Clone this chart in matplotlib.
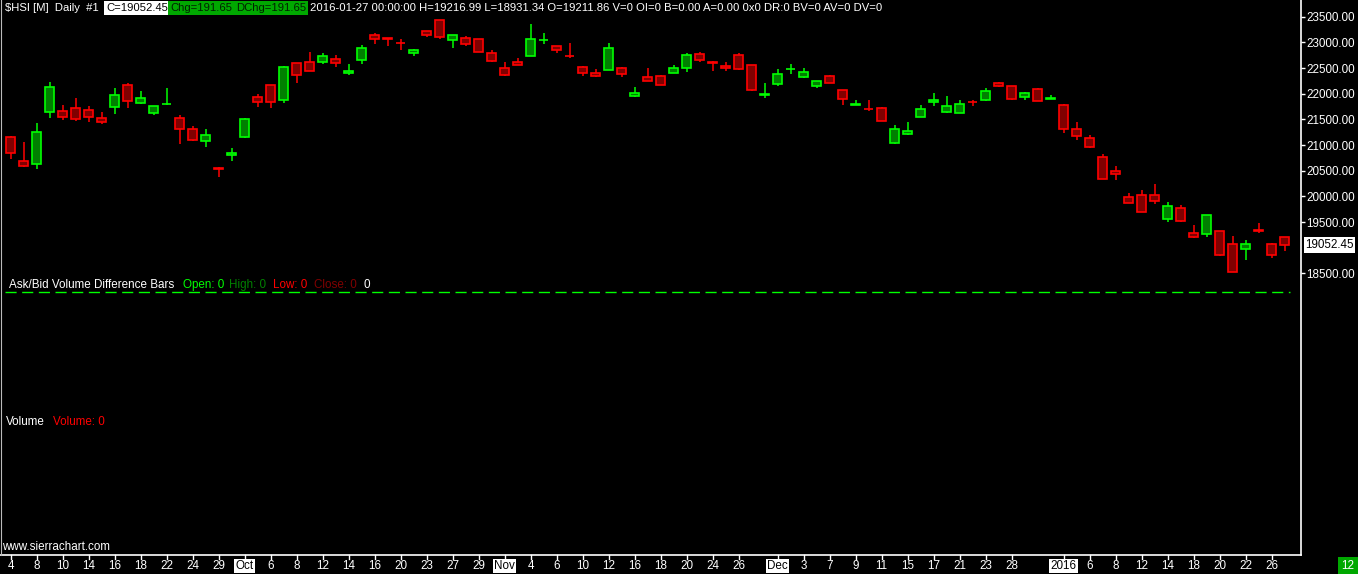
import matplotlib
matplotlib.use("Agg")
import matplotlib.pyplot as plt
import pandas as pd
import numpy as np

# ---------------- data ----------------
holidays = ["2015-09-28", "2015-10-01", "2015-10-21", "2015-12-25", "2016-01-01"]
opens = [21157, 20683, 20625, 21638, 21657, 21716, 21677, 21527, 21735, 22164,
         21813, 21618, 21790, 21521, 21307, 21073, 20559, 20800, 21162, 21930,
         22164, 21883, 22592, 22618, 22612, 22670, 22397, 22662, 23138, 23079,
         22994, 22799, 23216, 23430, 23052, 23079, 23060, 22787, 22495, 22618,
         22740, 23046, 22923, 22734, 22514, 22397, 22468, 22495, 21949, 22320,
         22339, 22409, 22507, 22768, 22612, 22540, 22748, 22553, 21981, 22195,
         22475, 22320, 22144, 22339, 22066, 21780, 21708, 21716, 21046, 21209,
         21552, 21833, 21649, 21630, 21844, 21871, 22203, 22144, 21930, 22086,
         21897, 21774, 21307, 21131, 20761, 20494, 19982, 20021, 20021, 19565,
         19768, 19281, 19273, 19320, 19066, 18981, 19339, 19066, 19211.86]
highs = [21176, 21059, 21423, 22228, 21774, 21916, 21760, 21638, 22105, 22208,
         22053, 21766, 22111, 21585, 21371, 21312, 20565, 20942, 21520, 21994,
         22170, 22545, 22600, 22812, 22793, 22754, 22579, 22949, 23182, 23085,
         23060, 22871, 23220, 23436, 23142, 23124, 23065, 22851, 22618, 22695,
         23358, 23182, 22928, 22988, 22540, 22475, 22988, 22514, 22125, 22495,
         22358, 22559, 22799, 22806, 22630, 22612, 22787, 22560, 22208, 22481,
         22579, 22501, 22250, 22364, 22070, 21877, 21877, 21735, 21384, 21449,
         21774, 22008, 21949, 21877, 21877, 22105, 22222, 22150, 22033, 22111,
         21975, 21794, 21449, 21190, 20825, 20592, 20060, 20118, 20241, 19890,
         19826, 19442, 19640, 19330, 19228, 19150, 19475, 19086, 19216.99]
lows = [20722, 20570, 20539, 21533, 21488, 21474, 21455, 21410, 21610, 21727,
        21805, 21591, 21785, 21026, 21073, 20968, 20383, 20695, 21143, 21747,
        21727, 21825, 22214, 22440, 22584, 22526, 22364, 22584, 22974, 22935,
        22857, 22740, 23105, 23071, 22896, 22935, 22810, 22618, 22345, 22560,
        22735, 22974, 22793, 22701, 22351, 22331, 22465, 22331, 21945, 22250,
        22170, 22405, 22429, 22623, 22448, 22448, 22462, 22060, 21922, 22156,
        22390, 22315, 22117, 22200, 21786, 21775, 21669, 21460, 21026, 21205,
        21548, 21766, 21630, 21625, 21766, 21866, 22140, 21883, 21883, 21860,
        21893, 21240, 21104, 20948, 20330, 20325, 19870, 19695, 19857, 19507,
        19510, 19195, 19214, 18844, 18530, 18760, 19292, 18805, 18931.34]
closes = [20840, 20586, 21248, 22125, 21552, 21501, 21552, 21455, 21969, 21852,
          21910, 21755, 21800, 21307, 21092, 21190, 20540, 20839, 21501, 21844,
          21833, 22514, 22358, 22448, 22729, 22592, 22442, 22884, 23071, 23070,
          22985, 22845, 23149, 23110, 23138, 22962, 22818, 22643, 22370, 22565,
          23060, 23055, 22857, 22725, 22397, 22351, 22884, 22390, 22008, 22253,
          22175, 22495, 22748, 22662, 22600, 22495, 22481, 22066, 21995, 22378,
          22485, 22417, 22242, 22203, 21903, 21790, 21700, 21462, 21307, 21268,
          21696, 21877, 21755, 21794, 21835, 22047, 22144, 21903, 22008, 21864,
          21910, 21318, 21182, 20968, 20333, 20442, 19877, 19701, 19916, 19807,
          19514, 19214, 19631, 18864, 18533, 19066, 19330, 18860.80, 19052.45]

tick_dates = ["2015-09-04", "2015-09-08", "2015-09-10", "2015-09-14", "2015-09-16",
              "2015-09-18", "2015-09-22", "2015-09-24", "2015-09-29", "2015-10-02",
              "2015-10-06", "2015-10-08", "2015-10-12", "2015-10-14", "2015-10-16",
              "2015-10-20", "2015-10-23", "2015-10-27", "2015-10-29", "2015-11-02",
              "2015-11-04", "2015-11-06", "2015-11-10", "2015-11-12", "2015-11-16",
              "2015-11-18", "2015-11-20", "2015-11-24", "2015-11-26", "2015-12-01",
              "2015-12-03", "2015-12-07", "2015-12-09", "2015-12-11", "2015-12-15",
              "2015-12-17", "2015-12-21", "2015-12-23", "2015-12-28", "2016-01-04",
              "2016-01-06", "2016-01-08", "2016-01-12", "2016-01-14", "2016-01-18",
              "2016-01-20", "2016-01-22", "2016-01-26"]
tick_labels = ["4", "8", "10", "14", "16", "18", "22", "24", "29", "Oct",
               "6", "8", "12", "14", "16", "20", "23", "27", "29", "Nov",
               "4", "6", "10", "12", "16", "18", "20", "24", "26", "Dec",
               "3", "7", "9", "11", "15", "17", "21", "23", "28", "2016",
               "6", "8", "12", "14", "18", "20", "22", "26"]
month_labels = ["Oct", "Nov", "Dec", "2016"]
price_ticks = [18500, 19500, 20000, 20500, 21000, 21500, 22000, 22500, 23000, 23500]
last_price = 19052.45

dates = pd.bdate_range("2015-09-04", "2016-01-27")
dates = dates[~dates.isin(pd.to_datetime(holidays))]
date_index = {d.strftime("%Y-%m-%d"): i for i, d in enumerate(dates)}

# ---------------- figure ----------------
W, H = 1358, 574
fig = plt.figure(figsize=(W / 100, H / 100), dpi=100, facecolor="black")
FONT = "Liberation Sans"
FS = 8.4
HFS = 8.1

def fx(x):
    return x / W

def fy(y):
    return 1 - y / H

# price pane occupies pixel rows 0..278, columns 0..1301
pane_top, pane_bot, pane_right = 0, 278, 1301
ax = fig.add_axes([0, fy(pane_bot), fx(pane_right), (pane_bot - pane_top) / H])
ax.set_facecolor("black")
px_per_bar = 13.0
x0_px = 10.5
ax.set_xlim((0 - x0_px) / px_per_bar, (pane_right - x0_px) / px_per_bar)
pp = 19.48  # price per pixel
ax.set_ylim(23500 - (pane_bot - 16.7) * pp, 23500 + 16.7 * pp)
for s in ax.spines.values():
    s.set_visible(False)

o = np.array(opens, float); h = np.array(highs, float)
l = np.array(lows, float); c = np.array(closes, float)
x = np.arange(len(o))
up = c >= o
edge = np.where(up, "#00FF00", "#FF0000")
fill = np.where(up, "#008000", "#800000")
ax.vlines(x, l, h, colors=edge, linewidth=1.1, zorder=2)
body_lo = np.minimum(o, c)
body_h = np.abs(c - o)
ax.bar(x, body_h, bottom=body_lo, width=0.62, color=fill, edgecolor=edge,
       linewidth=1.2, zorder=3)

ax.yaxis.tick_right()
ax.set_yticks(price_ticks)
ax.set_yticklabels([f"{v:.2f}" for v in price_ticks], fontsize=FS, color="white",
                   family=FONT)
ax.tick_params(axis="y", colors="white", length=3, width=1, pad=1, direction="out")
ax.set_xticks([])

# last price label
ax.annotate(f"{last_price:.2f}", xy=(1.0, last_price), xycoords=("axes fraction", "data"),
            xytext=(3, 0), textcoords="offset points", va="center", ha="left",
            fontsize=FS, family=FONT, color="black",
            bbox=dict(facecolor="white", edgecolor="none", pad=1.2))

# ---------------- frame lines (overlay axes in pixel coords) ----------------
ov = fig.add_axes([0, 0, 1, 1], facecolor="none")
ov.set_xlim(0, W); ov.set_ylim(H, 0); ov.axis("off")
ov.plot([pane_right, pane_right], [0, 555], color="white", lw=1.2)
ov.plot([0, pane_right], [555, 555], color="white", lw=1.2)
ov.plot([1, 1], [0, 555], color="#bbbbbb", lw=0.8)
ov.plot([5, 1290], [292, 292], color="#00FF00", lw=1, dashes=(8, 4))

# date axis ticks and labels
for d, lab in zip(tick_dates, tick_labels):
    i = date_index[d]
    xp = x0_px + px_per_bar * i
    ov.plot([xp, xp], [555, 559], color="white", lw=1)
    if lab in month_labels:
        ov.text(xp, 566, lab, ha="center", va="center", fontsize=FS, family=FONT,
                color="black", bbox=dict(facecolor="white", edgecolor="none", pad=1.0))
    else:
        ov.text(xp, 566, lab, ha="center", va="center", fontsize=FS, family=FONT,
                color="white")

# header
hy = 8
ov.text(5, hy, "$HSI [M]  Daily  #1", fontsize=HFS, family=FONT, color="white", va="center")
ov.text(106, hy, "C=19052.45", fontsize=HFS, family=FONT, color="black", va="center",
        bbox=dict(facecolor="white", edgecolor="none", pad=1.5))
ov.text(170, hy, "Chg=191.65", fontsize=HFS, family=FONT, color="#002200", va="center",
        bbox=dict(facecolor="#00A800", edgecolor="none", pad=1.5))
ov.text(236, hy, "DChg=191.65", fontsize=HFS, family=FONT, color="#002200", va="center",
        bbox=dict(facecolor="#00A800", edgecolor="none", pad=1.5))
ov.text(310, hy, "2016-01-27 00:00:00 H=19216.99 L=18931.34 O=19211.86 V=0 OI=0 "
        "B=0.00 A=0.00 0x0 DR:0 BV=0 AV=0 DV=0", fontsize=HFS, family=FONT,
        color="white", va="center")

# sub-graph labels
sy = 285
ov.text(9, sy, "Ask/Bid Volume Difference Bars", fontsize=FS, family=FONT, color="white", va="center")
ov.text(183, sy, "Open: 0", fontsize=FS, family=FONT, color="#00FF00", va="center")
ov.text(229, sy, "High: 0", fontsize=FS, family=FONT, color="#008000", va="center")
ov.text(273, sy, "Low: 0", fontsize=FS, family=FONT, color="#FF0000", va="center")
ov.text(314, sy, "Close: 0", fontsize=FS, family=FONT, color="#800000", va="center")
ov.text(363, sy, "0", fontsize=FS, family=FONT, color="white", va="center")

ov.text(6, 422, "Volume", fontsize=FS, family=FONT, color="white", va="center")
ov.text(53, 422, "Volume: 0", fontsize=FS, family=FONT, color="#FF0000", va="center")

ov.text(2, 547, "www.sierrachart.com", fontsize=FS, family=FONT, color="white", va="center")
ov.text(1348, 566, "12", fontsize=FS, family=FONT, color="white", va="center", ha="center",
        bbox=dict(facecolor="#00A800", edgecolor="none", pad=2.5))

fig.savefig("out.png", dpi=100, facecolor="black")
